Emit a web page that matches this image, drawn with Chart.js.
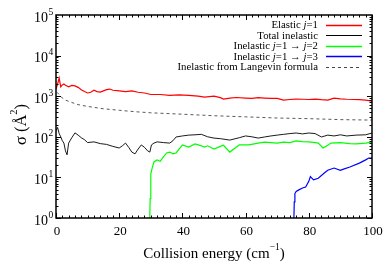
<!DOCTYPE html>
<html>
<head>
<meta charset="utf-8">
<script src="https://cdn.jsdelivr.net/npm/chart.js@4.4.1/dist/chart.umd.min.js"></script>
<style>
  body { margin: 0; background: #fff; }
  canvas { display: block; }
</style>
</head>
<body>
<canvas id="grafico" width="392" height="274"></canvas>
<script>
// dados
const energiaElastico = [0, 0.5, 1, 1.5, 2, 2.5, 3, 4, 5, 6, 7, 8, 9, 10, 11, 12, 13, 14, 15, 16, 17, 18, 20, 22, 24, 26, 28, 30, 33, 36, 39, 42, 45, 47, 50, 52, 53, 55, 57, 60, 62, 64, 66, 68, 70, 72, 74, 76, 78, 80, 82, 84, 86, 88, 90, 92, 94, 96, 98, 100]
const sigmaElastico = [1500, 2000, 2800, 1700, 1900, 2000, 1850, 1700, 1850, 1800, 1650, 1450, 1300, 1200, 1250, 1400, 1300, 1260, 1350, 1450, 1500, 1400, 1350, 1300, 1350, 1250, 1200, 1100, 1100, 1050, 1080, 1050, 1000, 950, 1000, 920, 850, 900, 930, 900, 880, 920, 900, 880, 880, 800, 830, 850, 840, 830, 850, 820, 800, 900, 860, 840, 830, 820, 800, 760]

const energiaTotal = [0, 0.5, 1, 1.5, 2, 2.5, 3, 3.5, 4, 5, 6, 7, 8, 9, 10, 12, 14, 16, 18, 20, 21, 22, 23, 24, 25, 26, 27, 28, 29, 29.7, 30.2, 31, 32, 34, 36, 37, 38, 40, 42, 44, 46, 48, 50, 52, 55, 58, 60, 62, 64, 66, 68, 70, 72, 74, 76, 78, 80, 82, 84, 86, 88, 90, 92, 95, 98, 100]
const sigmaTotal = [140, 170, 120, 100, 80, 70, 45, 36, 70, 95, 125, 110, 95, 85, 72, 75, 68, 65, 58, 53, 60, 70, 55, 42, 38, 50, 63, 55, 45, 42, 63, 70, 75, 72, 70, 80, 99, 105, 110, 112, 115, 100, 93, 90, 83, 95, 105, 100, 93, 99, 105, 110, 115, 120, 124, 118, 124, 120, 99, 110, 105, 112, 105, 110, 112, 124]

const energiaJ2 = [29.6, 29.8, 30, 30.5, 31, 32, 33, 34, 35, 36, 37, 38, 40, 42, 44, 46, 47, 48, 50, 52, 53, 55, 57, 58, 61, 64, 66, 68, 70, 72, 74, 76, 78, 80, 82, 83, 84.5, 86, 87, 90, 93, 95, 98, 100]
const sigmaJ2 = [0.5, 3, 12, 18, 24, 27, 25, 32, 40, 42, 38, 40, 63, 56, 67, 60, 56, 60, 50, 58, 62, 42, 55, 63, 63, 70, 74, 72, 70, 74, 72, 79, 76, 75, 72, 70, 53, 62, 70, 72, 68, 67, 70, 74]

const energiaJ3 = [75.2, 75.4, 75.6, 76, 77, 78, 79, 80, 80.5, 81.5, 83, 85, 86, 88, 90, 91, 93, 96, 98, 99, 100]
const sigmaJ3 = [0.5, 2.5, 4, 4.5, 5, 5.5, 5.8, 8, 10.5, 8.7, 9.5, 13, 15, 17, 15, 16, 18, 22.5, 27, 30, 30]

const energiaLangevin = [0.3, 1, 2, 3, 5, 7, 10, 15, 20, 25, 30, 40, 50, 60, 70, 80, 90, 100]
const sigmaLangevin = [1250, 1100, 900, 800, 700, 620, 560, 490, 450, 415, 390, 360, 330, 310, 290, 280, 265, 258]

const ticksX = [0, 20, 40, 60, 80, 100]
const expoentesY = [0, 1, 2, 3, 4, 5]

const fonte = '"Liberation Serif", "DejaVu Serif", serif'

function pares(xs, ys) {
    return xs.map((x, i) => ({ x: x, y: ys[i] }))
}

// legenda: pedaços de texto (italico ou nao)
const legenda = [
    { partes: [['Elastic ', false], ['j', true], ['=1', false]], cor: 'rgb(255,0,0)', largura: 1.5, traco: [] },
    { partes: [['Total inelastic', false]], cor: 'rgb(0,0,0)', largura: 1, traco: [] },
    { partes: [['Inelastic ', false], ['j', true], ['=1 \u2192 ', false], ['j', true], ['=2', false]], cor: 'rgb(0,255,0)', largura: 1.5, traco: [] },
    { partes: [['Inelastic ', false], ['j', true], ['=1 \u2192 ', false], ['j', true], ['=3', false]], cor: 'rgb(0,0,255)', largura: 1.5, traco: [] },
    { partes: [['Inelastic from Langevin formula', false]], cor: 'rgb(70,70,70)', largura: 1, traco: [3, 3] },
]

const eixosPlugin = {
    id: 'eixos',
    afterDatasetsDraw(chart) {
        const ctx = chart.ctx
        const a = chart.chartArea
        const sx = chart.scales.x
        const sy = chart.scales.y
        ctx.save()
        ctx.strokeStyle = '#000'
        ctx.fillStyle = '#000'
        // ticks internos
        ctx.lineWidth = 1
        ctx.beginPath()
        for (let v = 0; v <= 100; v += 2) {
            const px = Math.round(sx.getPixelForValue(v)) + 0.5
            const len = (v % 20 === 0) ? 5 : 2.5
            ctx.moveTo(px, a.bottom); ctx.lineTo(px, a.bottom - len)
            ctx.moveTo(px, a.top); ctx.lineTo(px, a.top + len)
        }
        for (let e = 0; e < 5; e++) {
            for (let m = 1; m <= 9; m++) {
                const py = Math.round(sy.getPixelForValue(m * Math.pow(10, e))) + 0.5
                const len = (m === 1) ? 5 : 2.5
                ctx.moveTo(a.left, py); ctx.lineTo(a.left + len, py)
                ctx.moveTo(a.right, py); ctx.lineTo(a.right - len, py)
            }
        }
        ctx.stroke()
        // moldura
        ctx.lineWidth = 1.5
        ctx.strokeRect(a.left, a.top, a.right - a.left, a.bottom - a.top)

        // rotulos do eixo x
        ctx.font = '13px ' + fonte
        ctx.textAlign = 'center'
        ctx.textBaseline = 'middle'
        ticksX.forEach(v => ctx.fillText(String(v), sx.getPixelForValue(v) + 1, a.bottom + 14))

        // rotulos do eixo y (10^n)
        expoentesY.forEach(n => {
            const py = sy.getPixelForValue(Math.pow(10, n))
            ctx.font = '14px ' + fonte
            ctx.textAlign = 'right'
            ctx.fillText('10', 48, py + 3)
            ctx.font = '9.5px ' + fonte
            ctx.textAlign = 'left'
            ctx.fillText(String(n), 48.5, py - 3)
        })

        // titulo x
        ctx.textBaseline = 'alphabetic'
        const t1 = 'Collision energy (cm'
        ctx.font = '9.5px ' + fonte
        const wSup = ctx.measureText('\u22121').width
        ctx.font = '15px ' + fonte
        const w1 = ctx.measureText(t1).width
        const w2 = ctx.measureText(')').width
        let x0 = (a.left + a.right) / 2 - (w1 + wSup + w2) / 2
        ctx.textAlign = 'left'
        ctx.fillText(t1, x0, 258)
        ctx.font = '9.5px ' + fonte
        ctx.fillText('\u22121', x0 + w1, 250)
        ctx.font = '15px ' + fonte
        ctx.fillText(')', x0 + w1 + wSup, 258)

        // titulo y
        ctx.save()
        ctx.translate(26, (a.top + a.bottom) / 2 + 8)
        ctx.rotate(-Math.PI / 2)
        ctx.font = '16.5px ' + fonte
        const s1 = '\u03c3 (\u00c5'
        const ws1 = ctx.measureText(s1).width
        ctx.font = '10.5px ' + fonte
        const ws2 = ctx.measureText('2').width
        ctx.font = '16.5px ' + fonte
        const ws3 = ctx.measureText(')').width
        let y0 = -(ws1 + ws2 + ws3) / 2
        ctx.fillText(s1, y0, 0)
        ctx.font = '10.5px ' + fonte
        ctx.fillText('2', y0 + ws1, -9)
        ctx.font = '16.5px ' + fonte
        ctx.fillText(')', y0 + ws1 + ws2, 0)
        ctx.restore()

        // legenda
        ctx.textBaseline = 'middle'
        legenda.forEach((item, i) => {
            const yy = 25 + i * 10.4
            let total = 0
            item.partes.forEach(p => {
                ctx.font = (p[1] ? 'italic ' : '') + '10.8px ' + fonte
                total += ctx.measureText(p[0]).width
            })
            let xx = 318 - total
            ctx.textAlign = 'left'
            item.partes.forEach(p => {
                ctx.font = (p[1] ? 'italic ' : '') + '10.8px ' + fonte
                ctx.fillText(p[0], xx, yy + 0.5)
                xx += ctx.measureText(p[0]).width
            })
            ctx.beginPath()
            ctx.strokeStyle = item.cor
            ctx.lineWidth = item.largura
            ctx.setLineDash(item.traco)
            ctx.moveTo(326, Math.round(yy) + 0.5)
            ctx.lineTo(362, Math.round(yy) + 0.5)
            ctx.stroke()
            ctx.setLineDash([])
        })
        ctx.restore()
    }
}

new Chart(document.getElementById('grafico'), {
    type: 'line',
    data: {
        datasets: [{
            label: 'Elastic j=1',
            data: pares(energiaElastico, sigmaElastico),
            borderColor: 'rgb(255,0,0)',
            borderWidth: 1.2,
        }, {
            label: 'Total inelastic',
            data: pares(energiaTotal, sigmaTotal),
            borderColor: 'rgb(0,0,0)',
            borderWidth: 0.9,
        }, {
            label: 'Inelastic j=1 -> j=2',
            data: pares(energiaJ2, sigmaJ2),
            borderColor: 'rgb(0,255,0)',
            borderWidth: 1.2,
        }, {
            label: 'Inelastic j=1 -> j=3',
            data: pares(energiaJ3, sigmaJ3),
            borderColor: 'rgb(0,0,255)',
            borderWidth: 1.2,
        }, {
            label: 'Inelastic from Langevin formula',
            data: pares(energiaLangevin, sigmaLangevin),
            borderColor: 'rgb(70,70,70)',
            borderWidth: 0.9,
            borderDash: [3, 3],
        }]
    },
    options: {
        responsive: false,
        animation: false,
        layout: { padding: { left: 56, right: 20, top: 15, bottom: 56 } },
        elements: { point: { radius: 0 }, line: { tension: 0, fill: false } },
        plugins: { legend: { display: false }, tooltip: { enabled: false } },
        scales: {
            x: { type: 'linear', min: 0, max: 100, display: false },
            y: { type: 'logarithmic', min: 1, max: 100000, display: false }
        }
    },
    plugins: [eixosPlugin]
});
</script>
</body>
</html>
